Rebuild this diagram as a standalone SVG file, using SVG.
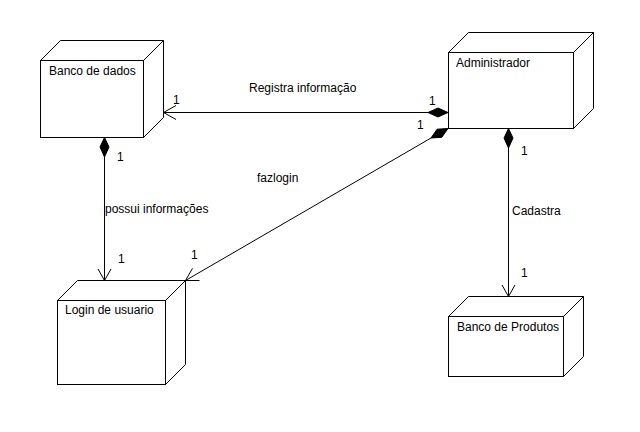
<svg xmlns="http://www.w3.org/2000/svg" width="640" height="432" viewBox="0 0 640 432">
<style>
.box{fill:#fff;stroke:#000;stroke-width:1}
.ln{fill:none;stroke:#000;stroke-width:1}
.dm{fill:#000;stroke:#000;stroke-width:1}
text{font-family:"Liberation Sans",Arial,sans-serif;font-size:12px;fill:#000}
</style>
<rect width="640" height="432" fill="#fff"/>
<g id="banco-de-dados">
<polygon class="box" points="40.5,60.5 60.5,40.5 163.5,40.5 143.5,60.5"/>
<polygon class="box" points="143.5,60.5 163.5,40.5 163.5,117.5 143.5,137.5"/>
<rect class="box" x="40.5" y="60.5" width="103" height="77"/>
<text x="49" y="75">Banco de dados</text>
</g>
<g id="administrador">
<polygon class="box" points="448.5,52.5 468.5,32.5 593.5,32.5 573.5,52.5"/>
<polygon class="box" points="573.5,52.5 593.5,32.5 593.5,108.5 573.5,128.5"/>
<rect class="box" x="448.5" y="52.5" width="125" height="76"/>
<text x="456" y="67">Administrador</text>
</g>
<g id="login-de-usuario">
<polygon class="box" points="57.5,300.5 77.5,280.5 185.5,280.5 165.5,300.5"/>
<polygon class="box" points="165.5,300.5 185.5,280.5 185.5,364.5 165.5,384.5"/>
<rect class="box" x="57.5" y="300.5" width="108" height="84"/>
<text x="65" y="314">Login de usuario</text>
</g>
<g id="banco-de-produtos">
<polygon class="box" points="448.5,316.5 468.5,296.5 583.5,296.5 563.5,316.5"/>
<polygon class="box" points="563.5,316.5 583.5,296.5 583.5,356.5 563.5,376.5"/>
<rect class="box" x="448.5" y="316.5" width="115" height="60"/>
<text x="457" y="331">Banco de Produtos</text>
</g>
<g id="connectors">
<!-- Registra informacao -->
<line class="ln" x1="428" y1="112.5" x2="163.5" y2="112.5"/>
<polygon class="dm" points="448,112.5 438,108 428,112.5 438,117"/>
<polyline class="ln" points="176,105.5 163.5,112.5 176,119.5"/>
<text x="249" y="92">Registra informação</text>
<text x="173" y="104">1</text>
<text x="429" y="105">1</text>
<!-- possui informacoes -->
<line class="ln" x1="104.5" y1="157" x2="104.5" y2="280.5"/>
<polygon class="dm" points="104.5,137.5 109,147 104.5,157 100,147"/>
<polyline class="ln" points="98,269 104.5,280.5 111,269"/>
<text x="105" y="213">possui informações</text>
<text x="117" y="161">1</text>
<text x="118" y="263">1</text>
<!-- fazlogin -->
<line class="ln" x1="431" y1="138" x2="185.5" y2="280.5"/>
<polygon class="dm" points="448,128.5 441.8,137.3 431,138 437.1,129.2"/>
<polyline class="ln" points="199.5,280.5 185.5,280.5 192.5,268.4"/>
<text x="257" y="182">fazlogin</text>
<text x="417" y="129">1</text>
<text x="191" y="259">1</text>
<!-- Cadastra -->
<line class="ln" x1="508.5" y1="148" x2="508.5" y2="296.5"/>
<polygon class="dm" points="508.5,128.5 513,138 508.5,148 504,138"/>
<polyline class="ln" points="502,285 508.5,296.5 515,285"/>
<text x="512" y="215">Cadastra</text>
<text x="521" y="155">1</text>
<text x="521" y="277">1</text>
</g>
</svg>
